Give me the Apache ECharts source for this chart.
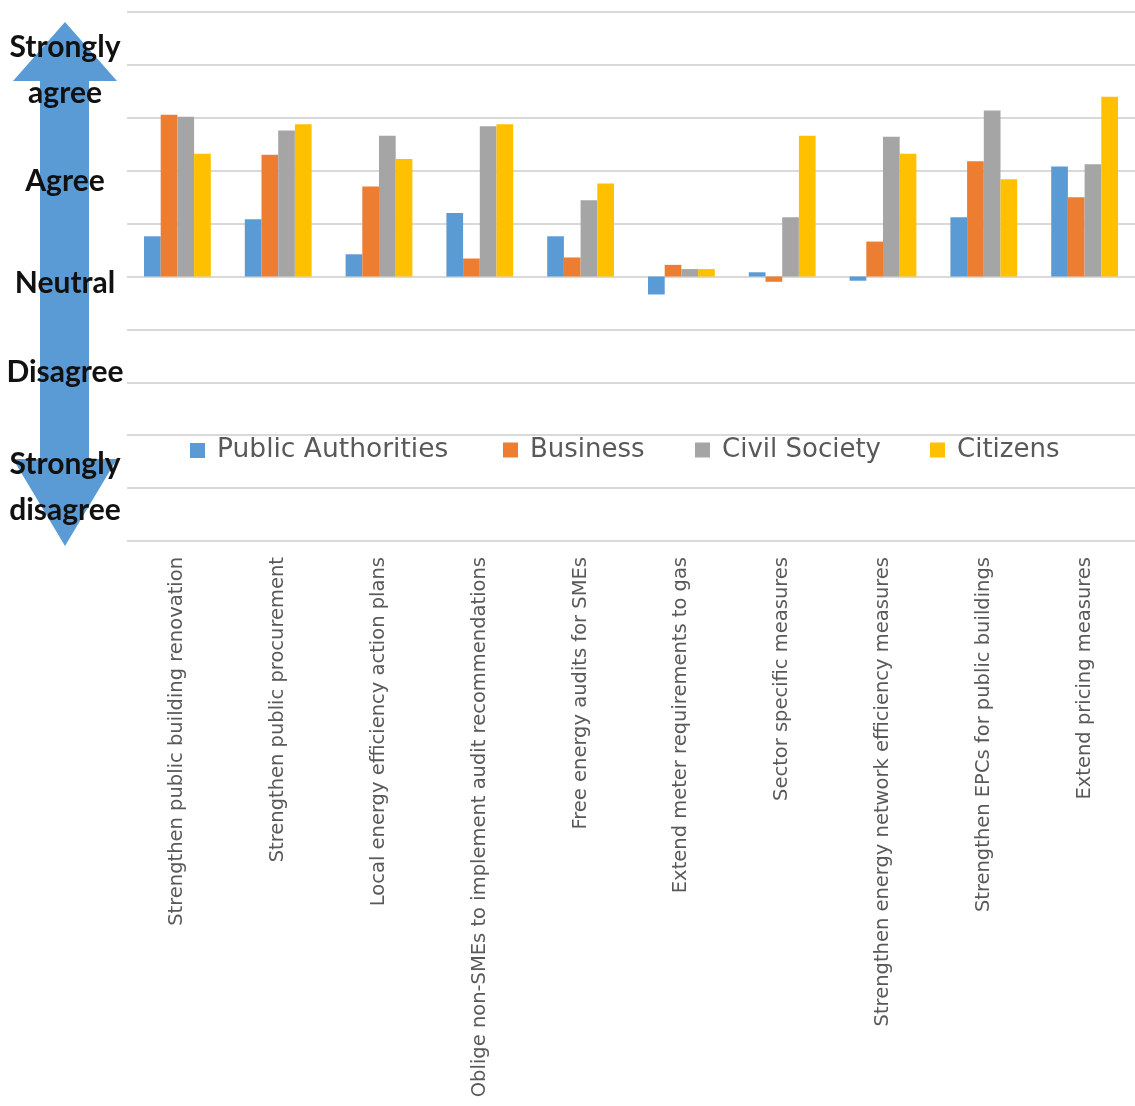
<!DOCTYPE html>
<html>
<head>
<meta charset="utf-8">
<style>
  html, body { margin: 0; padding: 0; background: #ffffff; }
  #chart { width: 1135px; height: 1106px; }
</style>
<script src="https://cdn.jsdelivr.net/npm/echarts@6/dist/echarts.min.js"></script>
</head>
<body>
<div id="chart"></div>
<script>
// Policy measures (x axis)
const categories = [
  'Strengthen public building renovation',
  'Strengthen public procurement',
  'Local energy efficiency action plans',
  'Oblige non-SMEs to implement audit recommendations',
  'Free energy audits for SMEs',
  'Extend meter requirements to gas',
  'Sector specific measures',
  'Strengthen energy network efficiency measures',
  'Strengthen EPCs for public buildings',
  'Extend pricing measures'
];

// Average response per stakeholder group (-2 strongly disagree ... +2 strongly agree)
const publicAuthorities = [0.38, 0.54, 0.21, 0.60, 0.38, -0.17, 0.04, -0.04, 0.56, 1.04];
const business          = [1.53, 1.15, 0.85, 0.17, 0.18, 0.11, -0.05, 0.33, 1.09, 0.75];
const civilSociety      = [1.51, 1.38, 1.33, 1.42, 0.72, 0.07, 0.56, 1.32, 1.57, 1.06];
const citizens          = [1.16, 1.44, 1.11, 1.44, 0.88, 0.07, 1.33, 1.16, 0.92, 1.70];

const seriesNames = ['Public Authorities', 'Business', 'Civil Society', 'Citizens'];
const seriesColors = ['#5b9bd5', '#ed7d31', '#a5a5a5', '#ffc000'];

// Agreement scale shown beside the double arrow
const scaleLabels = ['Strongly\nagree', 'Agree', 'Neutral', 'Disagree', 'Strongly\ndisagree'];
const scaleLabelY = [70, 181, 283, 372, 487];

// Left edge of each legend entry
const legendLeft = [185, 498, 690, 925];
const legendFontSize = [26.5, 26, 26, 26];

const chart = echarts.init(document.getElementById('chart'));

const scaleTexts = scaleLabels.map((t, i) => ({
  type: 'text',
  x: 65,
  y: scaleLabelY[i],
  z: 10,
  style: {
    text: t,
    fill: '#111111',
    font: 'bold 30px Lato',
    align: 'center',
    verticalAlign: 'middle',
    lineHeight: 46
  }
}));

const option = {
  backgroundColor: '#ffffff',
  animation: false,
  grid: { left: 127, right: -17, top: 12, bottom: 565 },
  legend: seriesNames.map((name, i) => ({
    data: [name],
    left: legendLeft[i],
    top: 432,
    icon: 'rect',
    itemWidth: 15,
    itemHeight: 15,
    textStyle: {
      fontFamily: 'DejaVu Sans',
      fontSize: legendFontSize[i],
      color: '#595959',
      padding: [0, 0, 0, 7]
    }
  })),
  xAxis: {
    type: 'category',
    data: categories,
    axisLine: { show: false },
    axisTick: { show: false },
    axisLabel: {
      interval: 0,
      rotate: 90,
      margin: 16,
      fontFamily: 'DejaVu Sans',
      fontSize: 19.5,
      color: '#595959'
    }
  },
  yAxis: {
    type: 'value',
    min: -2.5,
    max: 2.5,
    interval: 0.5,
    axisLabel: { show: false },
    axisLine: { show: false },
    axisTick: { show: false },
    splitLine: { lineStyle: { color: '#d9d9d9', width: 2 } }
  },
  series: [publicAuthorities, business, civilSociety, citizens].map((d, i) => ({
    name: seriesNames[i],
    type: 'bar',
    data: d,
    barWidth: 16.7,
    barGap: '0%',
    itemStyle: { color: seriesColors[i] }
  })),
  graphic: [
    {
      type: 'polygon',
      z: 5,
      shape: {
        points: [
          [65, 22], [117, 81], [89, 81], [89, 459], [117, 459],
          [65, 546], [13, 459], [40, 459], [40, 81], [13, 81]
        ]
      },
      style: { fill: '#5b9bd5' }
    }
  ].concat(scaleTexts)
};

chart.setOption(option);
</script>
</body>
</html>
